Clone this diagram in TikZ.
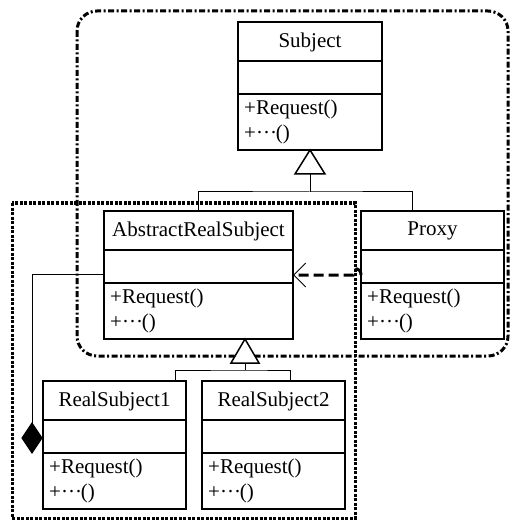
\documentclass[tikz,border=0pt]{standalone}
\usepackage{fontspec}
\setmainfont{Liberation Serif}
\usetikzlibrary{arrows.meta}

% three centred dots for the "+...()" operation
\newcommand\middots{\makebox[0.95em][s]{\textperiodcentered\hfil\textperiodcentered\hfil\textperiodcentered}}

\tikzset{
  cls/.style={draw, line width=1.5pt, minimum height=128pt, inner sep=0pt,
              outer sep=0pt, anchor=north west, fill=white},
  clsline/.style={line width=1.5pt},
  clstitle/.style={inner sep=0pt, font=\fontsize{21}{24}\selectfont},
  clsop/.style={inner sep=0pt, anchor=west, font=\fontsize{21}{24}\selectfont},
  link/.style={line width=1pt},
  genhead/.style={line width=1.5pt, fill=white},
  outerframe/.style={line width=3pt, rounded corners=20pt,
                     dash pattern=on 6pt off 2.5pt on 2pt off 2.5pt},
  innerframe/.style={line width=3pt, dash pattern=on 3pt off 1.5pt},
}

% a class box: name, left x, top y, width, title
\newcommand\umlclass[5]{%
  \node[cls, minimum width=#4] (#1) at (#2,#3) {};
  \draw[clsline] ([yshift=-39pt]#1.north west) -- ([yshift=-39pt]#1.north east);
  \draw[clsline] ([yshift=-72pt]#1.north west) -- ([yshift=-72pt]#1.north east);
  \node[clstitle] (#1-t) at ([yshift=-20pt]#1.north) {#5};
  \node[clsop] (#1-m1) at ([xshift=6pt,yshift=-87pt]#1.north west) {+Request()};
  \node[clsop] (#1-m2) at ([xshift=6pt,yshift=-112pt]#1.north west) {+\middots()};
}

\begin{document}
\begin{tikzpicture}[x=1pt, y=-1pt]
\useasboundingbox (0,0) rectangle (510,529);

% frames (drawn first, everything else lies on top)
\draw[outerframe] (77,11) rectangle (508,356);
\draw[innerframe] (12,203) rectangle (355,518);

% classes
\umlclass{subj}{238}{22}{144pt}{Subject}
\umlclass{ars}{104}{211}{189pt}{AbstractRealSubject}
\umlclass{proxy}{361}{211}{143pt}{Proxy}
\umlclass{rsa}{43}{381}{143pt}{RealSubject1}
\umlclass{rsb}{202}{381}{143pt}{RealSubject2}

% generalisation: AbstractRealSubject, Proxy -> Subject
\coordinate (g1) at ([yshift=-42pt]subj.south);
\coordinate (g1b) at ([yshift=-24pt]subj.south);
\coordinate (g1r) at ([xshift=-20.5pt]proxy.north);
\draw[link] (ars.north) |- (g1) -| (g1r);
\draw[link] (g1) -- (g1b);
\draw[genhead] (subj.south) -- ([xshift=-15pt]g1b) -- ([xshift=15pt]g1b) -- cycle;

% generalisation: RealSubject1, RealSubject2 -> AbstractRealSubject
\coordinate (g2t) at ([xshift=46.5pt]ars.south);
\coordinate (g2b) at ([yshift=-24pt]g2t);
\coordinate (g2) at ([yshift=-31pt]g2t);
\coordinate (g2l) at ([xshift=60.5pt]rsa.north);
\coordinate (g2r) at ([xshift=16.5pt]rsb.north);
\draw[link] (g2l) |- (g2) -| (g2r);
\draw[link] (g2) -- (g2b);
\draw[genhead] (g2t) -- ([xshift=-14pt]g2b) -- ([xshift=14pt]g2b) -- cycle;

% composition from AbstractRealSubject down to RealSubject1
\coordinate (c1) at ([yshift=-63pt]ars.north west);
\coordinate (c2) at (32,274);
\coordinate (dtop) at (32,423);
\draw[link] (c1) -- (c2) -- (dtop);
\draw[fill=black, line width=1pt] (dtop) -- (42,438) -- (32,453) -- (22,438) -- cycle;

% dependency: Proxy -> AbstractRealSubject, hopping over the frame line
\coordinate (d1) at ([yshift=-64pt]proxy.north west);
\coordinate (d2) at ([yshift=-64pt]ars.north east);
\draw[line width=3pt, dash pattern=on 10pt off 5pt,
      -{Straight Barb[length=12pt, width=24pt, line width=1pt]}]
  (d1) .. controls ([yshift=8pt]d1) and ([xshift=-8pt,yshift=8pt]d1) .. ([xshift=-8pt]d1) -- (d2);
\end{tikzpicture}
\end{document}
